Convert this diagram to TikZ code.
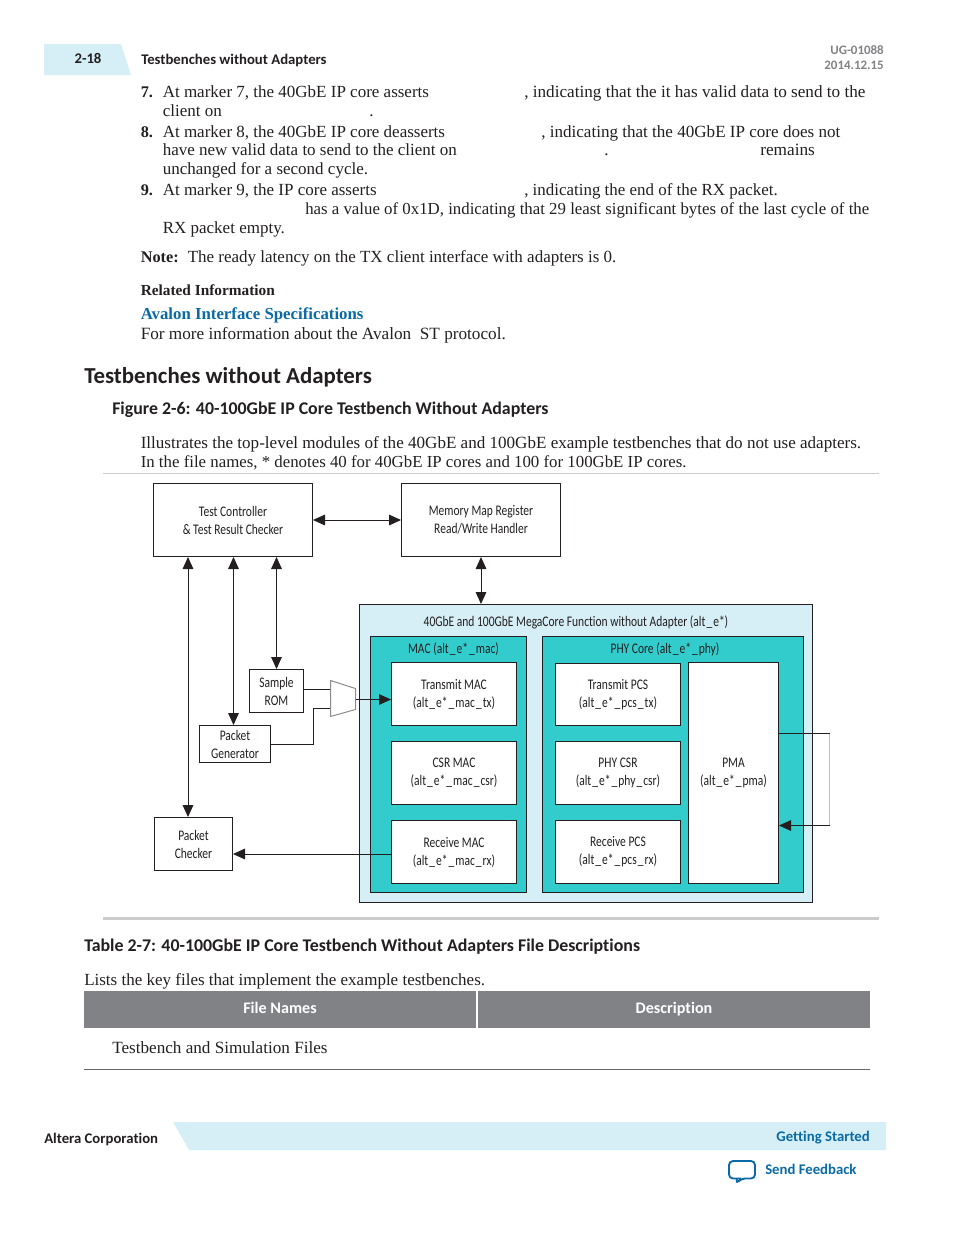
\documentclass[tikz,border=0pt]{standalone}
\usepackage{fontspec}
\usepackage{xcolor}
\setmainfont{Liberation Serif}
\newfontfamily\headfont[Ligatures=NoCommon]{Carlito}
\newfontfamily\diagfont[FakeStretch=0.785,Ligatures=NoCommon]{Carlito}
\usetikzlibrary{arrows.meta}
\definecolor{inkblack}{HTML}{231F20}
\definecolor{paleblue}{HTML}{D6EEF5}
\definecolor{coreteal}{HTML}{33CCCC}
\definecolor{linkblue}{HTML}{0A6AA6}
\definecolor{headgrey}{HTML}{808285}
\def\pxu{0.75pt}
\def\usc{\kern.07em\_\kern.07em}
\tikzset{
bodyline/.style={anchor=base west,inner sep=0pt,text=inkblack,font=\fontsize{12.75}{14}\selectfont},
bodyfit/.style={bodyline,font=\fontsize{#1}{14}\selectfont},
bodynum/.style={bodyline,font=\fontsize{12.2}{14}\selectfont\bfseries},
headline/.style={anchor=base west,inner sep=0pt,text=inkblack,font=\fontsize{11.05}{14}\headfont\bfseries},
block/.style={
  draw=inkblack,
  line width=0.75pt,
  fill=white,
  align=center,
  inner sep=0pt,
  text=inkblack,
  font=\fontsize{11}{13.5}\diagfont
},
title/.style={inner sep=0pt,text=inkblack,font=\fontsize{11}{13.5}\diagfont},
core/.style={block,fill=coreteal},
both/.style={{Triangle[length=9pt,width=8pt]}-{Triangle[length=9pt,width=8pt]},line width=0.75pt,draw=inkblack},
into/.style={-{Triangle[length=9pt,width=8pt]},line width=0.75pt,draw=inkblack},
wire/.style={line width=0.75pt,draw=inkblack},
}
\begin{document}
\begin{tikzpicture}[x=0.75pt,y=-0.75pt]
\useasboundingbox (0,0) rectangle (954,1235);
% page head
\fill[paleblue] (44,44) -- (121,44) -- (131,75) -- (44,75) -- cycle;
\node[headline,anchor=center] (pageno) at (88,58) {2-18};
\node[headline] (runhead) at (141,64) {Testbenches without Adapters};
\node[headline,anchor=base east,text=headgrey,font=\fontsize{9.7}{12}\headfont\bfseries] (docid) at (884,54) {UG-01088};
\node[headline,anchor=base east,text=headgrey,font=\fontsize{9.7}{12}\headfont\bfseries] (docdate) at (884,69) {2014.12.15};
% the steps
\node[bodynum] (num7) at (140.5,97) {7.};
\node[bodyline] (s7a) at (162.5,97) {At marker 7, the 40GbE IP core asserts};
\node[bodyfit=12.87] (s7b) at (524,97) {, indicating that the it has valid data to send to the};
\node[bodyline] (s7c) at (162.5,116) {client on};
\node[bodyline] (s7d) at (369,116) {.};
\node[bodynum] (num8) at (140.5,137) {8.};
\node[bodyline] (s8a) at (162.5,137) {At marker 8, the 40GbE IP core deasserts};
\node[bodyfit=12.8] (s8b) at (541,137) {, indicating that the 40GbE IP core does not};
\node[bodyline] (s8c) at (162.5,155) {have new valid data to send to the client on};
\node[bodyline] (s8d) at (604,155) {.};
\node[bodyfit=12.95] (s8e) at (760,155) {remains};
\node[bodyline] (s8f) at (162.5,174) {unchanged for a second cycle.};
\node[bodynum] (num9) at (140.5,195) {9.};
\node[bodyline] (s9a) at (162.5,195) {At marker 9, the IP core asserts};
\node[bodyfit=12.7] (s9b) at (524,195) {, indicating the end of the RX packet.};
\node[bodyfit=12.62] (s9c) at (305,214) {has a value of 0x1D, indicating that 29 least significant bytes of the last cycle of the};
\node[bodyline] (s9d) at (162.5,233) {RX packet empty.};
\node[bodynum] (notekey) at (140.5,262) {Note:};
\node[bodyline] (notetext) at (187.5,262) {The ready latency on the TX client interface with adapters is 0.};
\node[bodynum,font=\fontsize{11.5}{14}\selectfont\bfseries] (related) at (140.5,295) {Related Information};
\node[bodynum,text=linkblue,font=\fontsize{12.6}{14}\selectfont\bfseries] (avalon) at (140.5,319) {Avalon Interface Specifications};
\node[bodyfit=12.9] (moreinfo) at (140.5,339) {For more information about the Avalon\ \ ST protocol.};
\node[headline,font=\fontsize{17.15}{20}\headfont\bfseries] (section) at (84,383) {Testbenches without Adapters};
\node[headline,font=\fontsize{13.4}{16}\headfont\bfseries] (figtitle) at (112,414) {Figure 2-6: 40-100GbE IP Core Testbench Without Adapters};
\node[bodyfit=12.8] (intro1) at (140.5,448) {Illustrates the top-level modules of the 40GbE and 100GbE example testbenches that do not use adapters.};
\node[bodyfit=12.62] (intro2) at (140.5,467) {In the file names, * denotes 40 for 40GbE IP cores and 100 for 100GbE IP cores.};
\draw[line width=0.5pt,draw=black!20] (103,473.5) -- (879,473.5);
% the blocks
\node[block,fill=paleblue,minimum width=453*\pxu,minimum height=298*\pxu] (mega) at (586,753.5) {};
\node[title] (megatitle) at (576,622) {40GbE and 100GbE MegaCore Function without Adapter (alt\usc e*)};
\node[core,minimum width=156*\pxu,minimum height=256*\pxu] (mac) at (448.5,764.5) {};
\node[title] (mactitle) at (453.5,649.5) {MAC (alt\usc e*\usc mac)};
\node[core,minimum width=261*\pxu,minimum height=256*\pxu] (phy) at (673,764.5) {};
\node[title] (phytitle) at (665,649.5) {PHY Core (alt\usc e*\usc phy)};
\node[block,minimum width=159*\pxu,minimum height=73*\pxu] (ctrl) at (233,520) {Test Controller\\\& Test Result Checker};
\node[block,minimum width=159*\pxu,minimum height=73*\pxu] (regs) at (481,520) {Memory Map Register\\Read/Write Handler};
\node[block,minimum width=54*\pxu,minimum height=43*\pxu] (rom) at (276.5,691) {Sample\\ROM};
\node[block,minimum width=71*\pxu,minimum height=37*\pxu] (pktgen) at (235,744) {Packet\\Generator};
\node[block,minimum width=78*\pxu,minimum height=53*\pxu] (pktchk) at (193.5,844) {Packet\\Checker};
\node[block,minimum width=125*\pxu,minimum height=63*\pxu] (txmac) at (454,694) {Transmit MAC\\(alt\usc e*\usc mac\usc tx)};
\node[block,minimum width=125*\pxu,minimum height=63*\pxu] (csrmac) at (454,773) {CSR MAC\\(alt\usc e*\usc mac\usc csr)};
\node[block,minimum width=125*\pxu,minimum height=63*\pxu] (rxmac) at (454,852) {Receive MAC\\(alt\usc e*\usc mac\usc rx)};
\node[block,minimum width=125*\pxu,minimum height=62*\pxu] (txpcs) at (618,694.5) {Transmit PCS\\(alt\usc e*\usc pcs\usc tx)};
\node[block,minimum width=125*\pxu,minimum height=63*\pxu] (phycsr) at (618,773) {PHY CSR\\(alt\usc e*\usc phy\usc csr)};
\node[block,minimum width=125*\pxu,minimum height=63*\pxu] (rxpcs) at (618,852) {Receive PCS\\(alt\usc e*\usc pcs\usc rx)};
\node[block,minimum width=90*\pxu,minimum height=221*\pxu] (pma) at (733.5,773) {PMA\\(alt\usc e*\usc pma)};
% the multiplexer
\coordinate (muxa) at (330.5,680.5);
\coordinate (muxb) at (355.5,688.5);
\coordinate (muxc) at (355.5,709.5);
\coordinate (muxd) at (330.5,716.5);
\coordinate (muxin) at (330.5,689.5);
\coordinate (muxup) at (330.5,708.5);
\coordinate (muxout) at (355.5,699.5);
\coordinate (bendgen) at (313.5,744.5);
\coordinate (tapchk) at (188,0);
\coordinate (tapgen) at (233.5,0);
\coordinate (taprom) at (276.5,0);
\coordinate (loopa) at (829.5,733.5);
\coordinate (loopb) at (829.5,825.5);
% the arrows
\draw[both] (ctrl.east) -- (regs.west);
\draw[both] (regs.south) -- (mega.north -| regs.south);
\draw[both] (ctrl.south -| tapchk) -- (pktchk.north -| tapchk);
\draw[both] (ctrl.south -| tapgen) -- (pktgen.north -| tapgen);
\draw[both] (ctrl.south -| taprom) -- (rom.north -| taprom);
\draw[wire] (rom.east |- muxin) -- (muxin);
\draw[wire] (pktgen.east |- bendgen) -- (bendgen) -- (bendgen |- muxup) -- (muxup);
\draw[line width=0.75pt,draw=black!45,fill=white] (muxa) -- (muxb) -- (muxc) -- (muxd) -- cycle;
\draw[into] (muxout) -- (txmac.west |- muxout);
\draw[into] (rxmac.west |- 0,854) -- (pktchk.east |- 0,854);
\draw[line width=0.5pt,draw=black!25] (loopa) -- (loopb);
\draw[wire] (pma.east |- loopa) -- (loopa);
\draw[into] (loopb) -- (pma.east |- loopb);
\draw[line width=2.25pt,draw=black!20] (103,918.5) -- (879,918.5);
% the table
\node[headline,font=\fontsize{13.4}{16}\headfont\bfseries] (tabtitle) at (84,951) {Table 2-7: 40-100GbE IP Core Testbench Without Adapters File Descriptions};
\node[bodyline] (tabintro) at (84,985) {Lists the key files that implement the example testbenches.};
\node[fill=headgrey,inner sep=0pt,minimum width=392*\pxu,minimum height=37*\pxu] (colfiles) at (280,1009.5) {};
\node[fill=headgrey,inner sep=0pt,minimum width=392*\pxu,minimum height=37*\pxu] (coldesc) at (674,1009.5) {};
\node[inner sep=0pt,text=white,font=\fontsize{12.1}{14}\headfont\bfseries] (namefiles) at (280,1008) {File Names};
\node[inner sep=0pt,text=white,font=\fontsize{12.1}{14}\headfont\bfseries] (namedesc) at (674,1009) {Description};
\node[bodyfit=12.85] (tabrow) at (112,1053) {Testbench and Simulation Files};
\draw[line width=0.5pt,draw=black!60] (84,1069.5) -- (870,1069.5);
% page foot
\fill[paleblue] (173,1122) -- (886,1122) -- (886,1150) -- (189,1150) -- cycle;
\node[headline] (company) at (44,1143) {Altera Corporation};
\node[headline,anchor=base east,text=linkblue] (chapter) at (870,1141) {Getting Started};
\node[headline,text=linkblue] (feedback) at (765,1174) {Send Feedback};
\draw[line width=1.4pt,draw=linkblue,rounded corners=3pt,line join=round] (741,1178.5) -- (729,1178.5) -- (729,1161) -- (755,1161) -- (755,1178.5) -- (741,1178.5) -- (736,1184) -- (737,1178.5);
\end{tikzpicture}
\end{document}
